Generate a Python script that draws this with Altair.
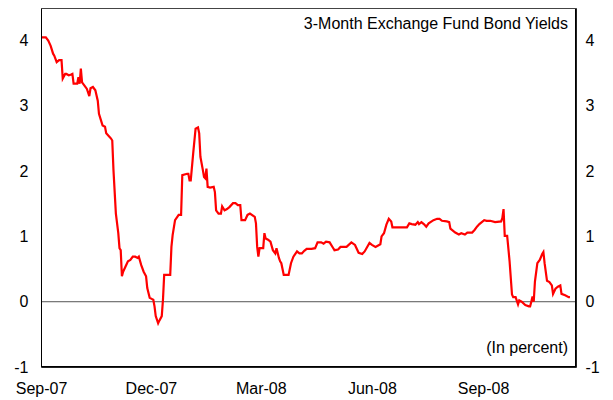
import altair as alt
import pandas as pd

# Values, grouped by month: (year-month, days, yields)
sep07_days = [1, 5, 7, 9, 11, 12, 14, 16, 18, 19, 21, 22, 24, 26, 27, 28]
sep07_vals = [4.05, 4.05, 4.00, 3.92, 3.80, 3.77, 3.67, 3.70, 3.70, 3.42, 3.49, 3.49, 3.47, 3.48, 3.49, 3.34]
oct07_days = [1, 2, 3, 4, 5, 7, 9, 11, 12, 14, 16, 18, 19, 21, 22, 24, 25, 28, 29, 30, 31]
oct07_vals = [3.34, 3.44, 3.34, 3.57, 3.36, 3.31, 3.26, 3.15, 3.27, 3.29, 3.24, 3.08, 2.88, 2.76, 2.70, 2.68, 2.58, 2.52, 2.50, 2.47, 2.02]
nov07_days = [2, 4, 5, 6, 7, 8, 10, 12, 14, 16, 18, 20, 21, 23, 25, 27, 28, 30]
nov07_vals = [1.35, 1.05, 0.82, 0.79, 0.39, 0.46, 0.54, 0.62, 0.64, 0.69, 0.69, 0.67, 0.69, 0.56, 0.46, 0.39, 0.21, 0.06]
dec07_days = [2, 3, 4, 5, 7, 8, 10, 11, 12, 17, 18, 19, 21, 24, 26, 27, 31]
dec07_vals = [0.04, 0.03, -0.07, -0.22, -0.33, -0.29, -0.22, 0.03, 0.41, 0.41, 0.84, 1.02, 1.25, 1.33, 1.33, 1.94, 1.96]
jan08_days = [1, 2, 3, 5, 7, 9, 10, 11, 13, 14, 15, 16, 17, 19, 22, 23, 24, 26, 28, 29, 31]
jan08_vals = [1.96, 1.86, 1.86, 2.27, 2.65, 2.67, 2.58, 2.22, 2.02, 1.91, 1.89, 2.04, 1.76, 1.75, 1.76, 1.68, 1.40, 1.35, 1.35, 1.46, 1.40]
feb08_days = [2, 4, 7, 9, 11, 13, 14, 17, 19, 21, 25, 26, 27, 28, 29]
feb08_vals = [1.42, 1.45, 1.51, 1.51, 1.48, 1.48, 1.25, 1.25, 1.33, 1.35, 1.30, 1.20, 0.84, 0.69, 0.82]
mar08_days = [3, 4, 5, 7, 9, 11, 13, 14, 16, 17, 18, 20, 24, 26, 28, 31]
mar08_vals = [0.82, 1.05, 0.97, 0.95, 0.92, 0.79, 0.74, 0.82, 0.67, 0.62, 0.59, 0.41, 0.41, 0.59, 0.69, 0.77]
apr08_days = [2, 4, 6, 8, 12, 15, 17, 20, 22, 24, 27, 30]
apr08_vals = [0.74, 0.74, 0.78, 0.81, 0.81, 0.82, 0.91, 0.91, 0.89, 0.92, 0.91, 0.82]
may08_days = [1, 4, 6, 11, 15, 18, 21, 24, 26, 30]
may08_vals = [0.79, 0.80, 0.84, 0.84, 0.91, 0.87, 0.75, 0.73, 0.77, 0.90]
jun08_days = [1, 4, 8, 9, 11, 13, 15, 17, 18, 30]
jun08_vals = [0.87, 0.84, 0.88, 1.00, 1.05, 1.18, 1.27, 1.23, 1.14, 1.14]
jul08_days = [2, 4, 7, 9, 10, 12, 14, 16, 18, 22, 25, 27, 29]
jul08_vals = [1.20, 1.19, 1.18, 1.22, 1.19, 1.22, 1.19, 1.15, 1.20, 1.25, 1.27, 1.27, 1.24]
aug08_days = [2, 4, 5, 9, 12, 14, 17, 19, 23, 25, 27, 29, 31]
aug08_vals = [1.23, 1.22, 1.12, 1.06, 1.03, 1.05, 1.03, 1.06, 1.06, 1.10, 1.15, 1.19, 1.22]
sep08_days = [2, 4, 7, 11, 16, 17, 18, 19, 21, 23, 25, 26, 28, 30]
sep08_vals = [1.25, 1.24, 1.24, 1.22, 1.23, 1.28, 1.42, 1.01, 1.01, 0.62, 0.11, 0.07, 0.07, -0.04]
oct08_days = [1, 3, 6, 9, 10, 11, 12, 13, 14, 16, 18, 20, 21, 22, 24, 26, 28, 29, 31]
oct08_vals = [0.02, 0.00, -0.05, -0.07, -0.07, 0.00, 0.08, 0.00, 0.31, 0.59, 0.64, 0.73, 0.76, 0.59, 0.32, 0.30, 0.25, 0.12, 0.20]
nov08_days = [2, 4, 5, 8, 11, 12]
nov08_vals = [0.23, 0.25, 0.12, 0.10, 0.07, 0.07]

months = [
    ("2007-09", sep07_days, sep07_vals), ("2007-10", oct07_days, oct07_vals),
    ("2007-11", nov07_days, nov07_vals), ("2007-12", dec07_days, dec07_vals),
    ("2008-01", jan08_days, jan08_vals), ("2008-02", feb08_days, feb08_vals),
    ("2008-03", mar08_days, mar08_vals), ("2008-04", apr08_days, apr08_vals),
    ("2008-05", may08_days, may08_vals), ("2008-06", jun08_days, jun08_vals),
    ("2008-07", jul08_days, jul08_vals), ("2008-08", aug08_days, aug08_vals),
    ("2008-09", sep08_days, sep08_vals), ("2008-10", oct08_days, oct08_vals),
    ("2008-11", nov08_days, nov08_vals),
]

dates, values = [], []
for ym, ds, vs in months:
    assert len(ds) == len(vs), ym
    for d, v in zip(ds, vs):
        dates.append(f"{ym}-{d:02d}")
        values.append(v)

df = pd.DataFrame({"date": dates, "yield": values})

title_text = "3-Month Exchange Fund Bond Yields"
unit_text = "(In percent)"
tick_dates = [
    alt.DateTime(year=2007, month=9, date=1),
    alt.DateTime(year=2007, month=12, date=1),
    alt.DateTime(year=2008, month=3, date=1),
    alt.DateTime(year=2008, month=6, date=1),
    alt.DateTime(year=2008, month=9, date=1),
]
y_ticks = [-1, 0, 1, 2, 3, 4]

W, H = 535, 359
FONT = "Liberation Sans"

x_scale = alt.Scale(domain=[alt.DateTime(year=2007, month=9, date=1),
                            alt.DateTime(year=2008, month=11, date=17)])
y_scale = alt.Scale(domain=[-1, 4.5], nice=False, zero=False)

x_axis = alt.Axis(values=tick_dates, format="%b-%y", title=None, ticks=False,
                  domain=False, grid=False, labelPadding=13, labelFlush=False,
                  labelFontSize=16, labelFont=FONT, labelColor="#000")

base = alt.Chart(df)

line = base.mark_line(color="#ff0000", strokeWidth=2.2, clip=True).encode(
    x=alt.X("date:T", scale=x_scale, axis=x_axis),
    y=alt.Y("yield:Q", scale=y_scale,
            axis=alt.Axis(values=y_ticks, title=None, ticks=False, domain=False, grid=False,
                          labelPadding=13, labelFontSize=16, labelFont=FONT,
                          labelColor="#000", labelExpr="'' + datum.value")),
)

right_axis = base.mark_line(opacity=0).encode(
    x=alt.X("date:T", scale=x_scale, axis=x_axis),
    y=alt.Y("yield:Q", scale=y_scale,
            axis=alt.Axis(orient="right", values=y_ticks, title=None, ticks=False,
                          domain=False, grid=False, labelPadding=9, labelFontSize=16,
                          labelFont=FONT, labelColor="#000", labelExpr="'' + datum.value")),
)

zero = alt.Chart(pd.DataFrame({"z": [0]})).mark_rule(color="#555555", strokeWidth=1).encode(
    y=alt.Y("z:Q", scale=y_scale, axis=None)
)

one = pd.DataFrame({"a": [0]})
frame_left = alt.Chart(one).mark_rule(color="#000000", strokeWidth=1).encode(
    x=alt.value(0.5), y=alt.value(0), y2=alt.value(H))
frame_right = alt.Chart(one).mark_rule(color="#000000", strokeWidth=1).encode(
    x=alt.value(W - 0.5), y=alt.value(0), y2=alt.value(H))
frame_top = alt.Chart(one).mark_rule(color="#444444", strokeWidth=1).encode(
    y=alt.value(0.5), x=alt.value(0), x2=alt.value(W))
frame_bottom = alt.Chart(one).mark_rule(color="#000000", strokeWidth=1).encode(
    y=alt.value(H - 0.5), x=alt.value(0), x2=alt.value(W))

title = alt.Chart(pd.DataFrame({"t": [title_text]})).mark_text(
    align="right", baseline="alphabetic", fontSize=16, font=FONT, color="#000"
).encode(x=alt.value(W - 8), y=alt.value(21), text="t:N")

unit = alt.Chart(pd.DataFrame({"t": [unit_text]})).mark_text(
    align="right", baseline="alphabetic", fontSize=16, font=FONT, color="#000"
).encode(x=alt.value(W - 8), y=alt.value(345), text="t:N")

chart = alt.layer(
    zero, line, right_axis, frame_left, frame_right, frame_top, frame_bottom, title, unit
).resolve_scale(y="independent").properties(
    width=W, height=H,
    autosize=alt.AutoSizeParams(type="none"),
    padding={"left": 33, "top": 0, "right": 29, "bottom": 30},
    background="white",
).configure_view(stroke="#222222", strokeWidth=1)

chart.save("out.html", embed_options={"renderer": "svg", "actions": False})
